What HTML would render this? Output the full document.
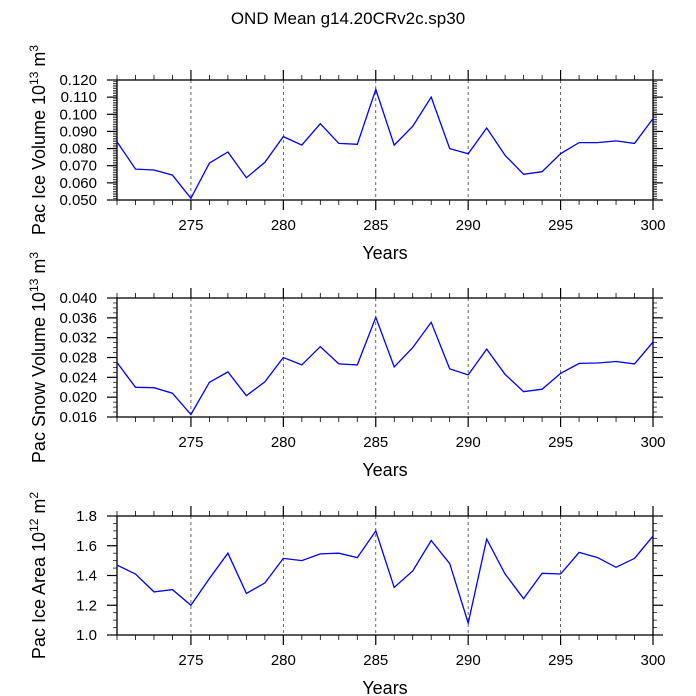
<!DOCTYPE html>
<html><head><meta charset="utf-8"><style>
body{margin:0;background:#fff}
svg{display:block;font-family:"Liberation Sans",sans-serif}
</style></head><body>
<svg id="c" width="696" height="696">
<text x="348" y="24" font-size="17" text-anchor="middle">OND Mean g14.20CRv2c.sp30</text>
</svg>
<script>
const years = [271,272,273,274,275,276,277,278,279,280,281,282,283,284,285,286,287,288,289,290,291,292,293,294,295,296,297,298,299,300];
const iceVolume = [0.084,0.068,0.0675,0.0645,0.051,0.0715,0.078,0.063,0.072,0.087,0.082,0.0945,0.083,0.0825,0.1145,0.082,0.093,0.110,0.080,0.077,0.092,0.076,0.065,0.0665,0.077,0.0835,0.0835,0.0845,0.083,0.0975];
const snowVolume = [0.027,0.022,0.0219,0.0208,0.0165,0.0230,0.0251,0.0203,0.0231,0.0280,0.0265,0.0302,0.0267,0.0265,0.0361,0.0261,0.0300,0.0351,0.0257,0.0245,0.0297,0.0246,0.0211,0.0216,0.0248,0.0268,0.0269,0.0272,0.0267,0.0311];
const iceArea = [1.47,1.41,1.29,1.305,1.20,1.38,1.55,1.28,1.35,1.515,1.50,1.545,1.55,1.52,1.70,1.32,1.43,1.635,1.48,1.08,1.645,1.41,1.245,1.415,1.41,1.555,1.52,1.455,1.515,1.665];
const xTicks = [275,280,285,290,295,300];
const ticks1 = ["0.050","0.060","0.070","0.080","0.090","0.100","0.110","0.120"];
const ticks2 = ["0.016","0.020","0.024","0.028","0.032","0.036","0.040"];
const ticks3 = ["1.0","1.2","1.4","1.6","1.8"];

const NS="http://www.w3.org/2000/svg";
const svg=document.getElementById('c');
function mk(tag,attrs,parent){const e=document.createElementNS(NS,tag);for(const k in attrs)e.setAttribute(k,attrs[k]);(parent||svg).appendChild(e);return e;}
const X0=117,X1=653,XMIN=271,XMAX=300;
const xs=v=>X0+(v-XMIN)/(XMAX-XMIN)*(X1-X0);

function panel(name,top,bot,vals,ticks,minorStep,title,sup,unit){
  const g=mk('g',{});
  
  
  const ymin=parseFloat(ticks[0]),ymax=parseFloat(ticks[ticks.length-1]);
  const ys=v=>bot-(v-ymin)/(ymax-ymin)*(bot-top);
  xTicks.forEach(t=>{if(t<XMAX){const l=mk('line',{x1:xs(t),x2:xs(t),y1:top,y2:bot,stroke:'#444','stroke-width':0.8,'stroke-dasharray':'3,3'},g);
    
    }});
  for(let y=XMIN;y<=XMAX;y++){const maj=xTicks.includes(y);const L=maj?10:5;
    mk('line',{x1:xs(y),x2:xs(y),y1:bot,y2:bot+L,stroke:'#000','stroke-width':maj?1.2:0.8},g);
    mk('line',{x1:xs(y),x2:xs(y),y1:top,y2:top-L,stroke:'#000','stroke-width':maj?1.2:0.8},g);}
  xTicks.forEach(t=>{const tx=mk('text',{x:xs(t),y:bot+30,'font-size':15,'text-anchor':'middle'},g);tx.textContent=t;
    
    });
  for(let v=ymin;v<=ymax+1e-9;v+=minorStep){mk('line',{x1:X0-4,x2:X0,y1:ys(v),y2:ys(v),stroke:'#000','stroke-width':0.7},g);
    mk('line',{x1:X1,x2:X1+4,y1:ys(v),y2:ys(v),stroke:'#000','stroke-width':0.7},g);}
  ticks.forEach(t=>{const v=parseFloat(t);
    mk('line',{x1:X0-10,x2:X0,y1:ys(v),y2:ys(v),stroke:'#000','stroke-width':1.2},g);
    mk('line',{x1:X1,x2:X1+10,y1:ys(v),y2:ys(v),stroke:'#000','stroke-width':1.2},g);
    const tx=mk('text',{x:97,y:ys(v)+5,'font-size':15,'text-anchor':'end'},g);tx.textContent=t;
    
    });
  mk('rect',{x:X0,y:top,width:X1-X0,height:bot-top,fill:'none',stroke:'#000','stroke-width':1.3},g);
  const pts=vals.map((v,i)=>xs(years[i]).toFixed(1)+','+ys(v).toFixed(1)).join(' ');
  const pl=mk('polyline',{points:pts,fill:'none',stroke:'#0000ff','stroke-width':1.3},g);
  
  
  const xt=mk('text',{x:385,y:bot+59,'font-size':18,'text-anchor':'middle'},g);xt.textContent='Years';
  
  
  const cy=(top+bot)/2;
  const yt=mk('text',{x:0,y:0,'font-size':18,'text-anchor':'middle',transform:`translate(45,${cy}) rotate(-90)`},g);
  
  
  const a=document.createElementNS(NS,'tspan');a.textContent=title+' 10';yt.appendChild(a);
  const b=document.createElementNS(NS,'tspan');b.setAttribute('dy','-7');b.setAttribute('font-size','12');b.textContent=sup;yt.appendChild(b);
  const c=document.createElementNS(NS,'tspan');c.setAttribute('dy','7');c.textContent=' m';yt.appendChild(c);
  const d=document.createElementNS(NS,'tspan');d.setAttribute('dy','-7');d.setAttribute('font-size','12');d.textContent=unit;yt.appendChild(d);
}
panel('ice-volume',80,200,iceVolume,ticks1,0.001,'Pac Ice Volume','13','3');
panel('snow-volume',298,417,snowVolume,ticks2,0.001,'Pac Snow Volume','13','3');
panel('ice-area',516,635,iceArea,ticks3,0.05,'Pac Ice Area','12','2');
</script>
</body></html>
